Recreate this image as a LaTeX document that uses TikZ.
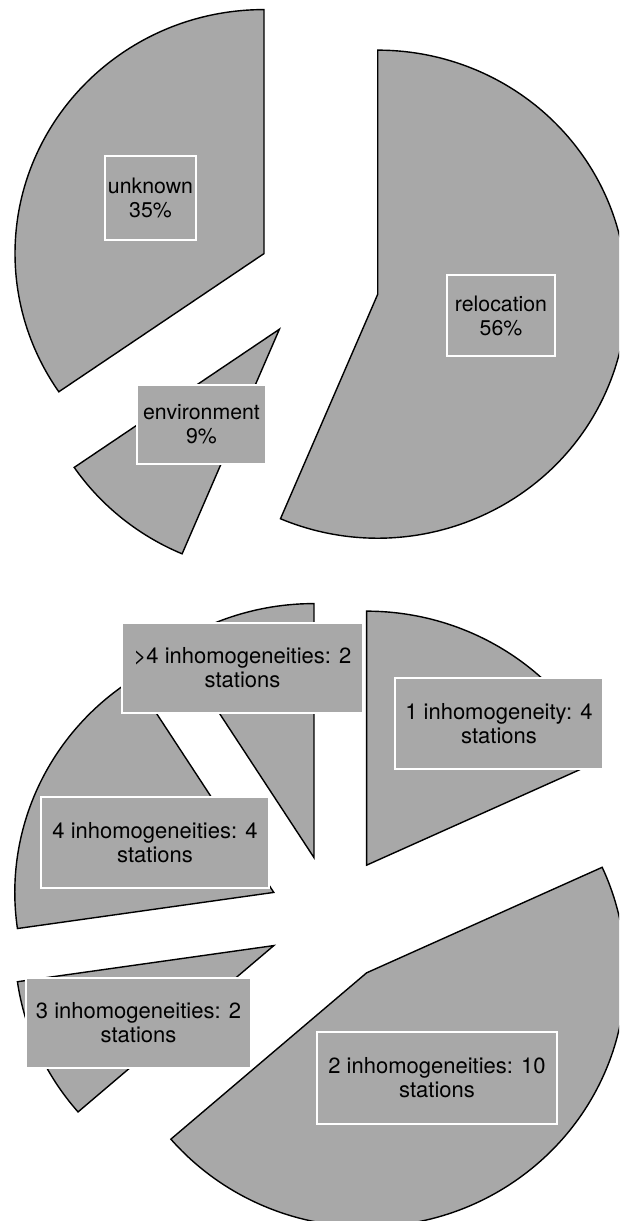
\documentclass[tikz,border=0pt]{standalone}
\usepackage{fontspec}
\setmainfont{TeX Gyre Heros}
\usetikzlibrary{calc}
\definecolor{piegray}{RGB}{168,168,168}
\newcommand\myslice[5]{%
  \draw[slicestyle] (#1) -- ++(#2:#4 and #5) arc[start angle=#2, end angle=#3, x radius=#4, y radius=#5] -- cycle;}
\tikzset{
  slicestyle/.style={fill=piegray, draw=black, line width=1.4pt, line join=miter},
  lbl/.style={draw=white, line width=1.2pt, fill=piegray, text=black, align=center, inner sep=0pt},
  topfont/.style={font=\fontsize{21.3}{24}\selectfont},
  botfont/.style={font=\fontsize{22}{24}\selectfont}
}
\begin{document}
\begin{tikzpicture}[x=1pt,y=1pt]
\useasboundingbox (0,0) rectangle (619,1221);
\clip (0,0) rectangle (619,1221);
% top pie
\coordinate (tc) at (318,939);
\coordinate (aU) at ($(tc)+(152.25:61pt)$);
\coordinate (aE) at ($(tc)+(230.75:61pt)$);
\coordinate (aR) at ($(tc)+(348.5:61pt)$);
\myslice{aU}{90}{214.5}{249pt}{244pt}
\myslice{aE}{214.5}{247}{249pt}{244pt}
\myslice{aR}{247}{450}{249pt}{244pt}
% bottom pie
\coordinate (bc) at (332,302);
\coordinate (b1) at ($(bc)+(57.27:64pt)$);
\coordinate (b5) at ($(bc)+(106.36:64pt)$);
\coordinate (b4) at ($(bc)+(155.45:64pt)$);
\coordinate (b3) at ($(bc)+(204.55:64pt)$);
\coordinate (b2) at ($(bc)+(302.73:64pt)$);
\myslice{b1}{24.55}{90}{259pt}{254pt}
\myslice{b5}{90}{122.73}{259pt}{254pt}
\myslice{b4}{122.73}{188.18}{259pt}{254pt}
\myslice{b3}{188.18}{220.91}{259pt}{254pt}
\myslice{b2}{220.91}{384.55}{259pt}{254pt}
% labels top
\node[lbl, topfont, minimum width=91pt, minimum height=84pt] (lunk) at (150.5,1023) {unknown\\35\%};
\node[lbl, topfont, minimum width=108pt, minimum height=81pt] (lrel) at (501,905.5) {relocation\\56\%};
\node[lbl, topfont, minimum width=129pt, minimum height=79pt] (lenv) at (201.5,796.5) {environment\\9\%};
% labels bottom
\node[lbl, botfont, minimum width=241pt, minimum height=90pt] (l5) at (242.5,553) {>4 inhomogeneities: 2\\stations};
\node[lbl, botfont, minimum width=208pt, minimum height=91pt] (l1) at (499,497.5) {1 inhomogeneity: 4\\stations};
\node[lbl, botfont, minimum width=228pt, minimum height=91pt] (l4) at (155,378.5) {4 inhomogeneities: 4\\stations};
\node[lbl, botfont, minimum width=225pt, minimum height=90pt] (l3) at (138.5,198) {3 inhomogeneities: 2\\stations};
\node[lbl, botfont, minimum width=240pt, minimum height=92pt] (l2) at (437,143) {2 inhomogeneities: 10\\stations};
\end{tikzpicture}
\end{document}
